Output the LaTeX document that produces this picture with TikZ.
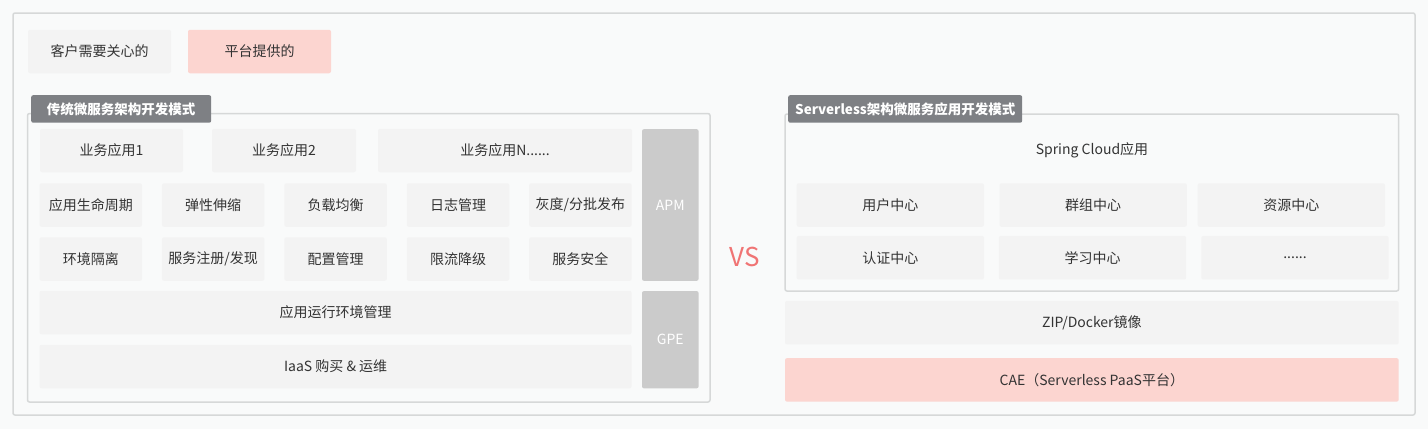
\documentclass[tikz,border=0pt]{standalone}
\usepackage{fontspec}
\setmainfont{Noto Sans CJK SC}
\definecolor{bgcol}{HTML}{F9FAFA}
\definecolor{framecol}{HTML}{D6D8D8}
\definecolor{boxgrey}{HTML}{F3F3F3}
\definecolor{boxpink}{HTML}{FCD5D0}
\definecolor{taggrey}{HTML}{7E8084}
\definecolor{sidegrey}{HTML}{CBCBCB}
\definecolor{txtcol}{HTML}{333333}
\definecolor{vscol}{HTML}{F07474}
\begin{document}
\begin{tikzpicture}[x=1pt,y=-1pt,
    cell/.style={fill=boxgrey,rounded corners=2pt,inner sep=0pt,minimum height=43.5pt,
      text=txtcol,font=\fontsize{14}{16}\selectfont},
    pinkcell/.style={cell,fill=boxpink},
    sidecell/.style={cell,fill=sidegrey,text=white},
    tagbox/.style={fill=taggrey,rounded corners=2pt,inner sep=0pt,anchor=north west,
      minimum height=27.5pt,text=white,font=\bfseries\fontsize{13.5}{16}\selectfont},
    frame/.style={draw=framecol,line width=1.5pt,rounded corners=2pt}]
    \useasboundingbox (0,0) rectangle (1428,429);
    \fill[bgcol] (0,0) rectangle (1428,429);

    % 外框
    \draw[frame,fill=bgcol] (13,13) rectangle (1415,415);

    % 图例
    \node[cell,minimum width=143pt] (legCust) at (99.5,51.5) {客户需要关心的};
    \node[pinkcell,minimum width=143pt] (legPlat) at (259.5,51.5) {平台提供的};

    % 左侧: 传统微服务架构
    \draw[frame] (27.5,113.5) rectangle (710,402);
    \node[tagbox,minimum width=180pt] (tagLeft) at (31,95) {传统微服务架构开发模式};

    % 第1行: 业务应用
    \node[cell,minimum width=143pt] (app1) at (111.5,150.5) {业务应用1};
    \node[cell,minimum width=144pt] (app2) at (284,150.5) {业务应用2};
    \node[cell,minimum width=254pt] (appN) at (505,150.5) {业务应用N......};

    % 第2行, 第3行: 治理能力
    \foreach \txt [count=\i from 0] in {应用生命周期,弹性伸缩,负载均衡,日志管理,灰度/分批发布}
        \node[cell,minimum width=102.5pt] (gov-a\i) at (90.8+122.4*\i,205) {\txt};
    \foreach \txt [count=\i from 0] in {环境隔离,服务注册/发现,配置管理,限流降级,服务安全}
        \node[cell,minimum width=102.5pt] (gov-b\i) at (90.8+122.4*\i,259) {\txt};

    % 第4行, 第5行
    \node[cell,minimum width=592pt] (runEnv) at (335.6,312.5) {应用运行环境管理};
    \node[cell,minimum width=592pt] (iaas) at (335.6,366.5) {IaaS 购买 \& 运维};

    % 右侧竖条
    \node[sidecell,minimum width=56.6pt,minimum height=151.7pt] (apm) at (670.3,205) {APM};
    \node[sidecell,minimum width=56.6pt,minimum height=97.3pt] (gpe) at (670.3,339.7) {GPE};

    % VS
    \node[text=vscol,font=\fontsize{26}{30}\selectfont] (vs) at (744.6,257) {VS};

    % 右侧: Serverless架构
    \draw[frame] (785,114) rectangle (1398.7,291);
    \node[tagbox,minimum width=234pt] (tagRight) at (788,95) {Serverless架构微服务应用开发模式};
    \node[text=txtcol,font=\fontsize{14}{16}\selectfont] (springApp) at (1092,150.7) {Spring Cloud应用};

    \node[cell,minimum width=187.4pt] (userCtr) at (890.3,205) {用户中心};
    \node[cell,minimum width=187.4pt] (groupCtr) at (1093.2,205) {群组中心};
    \node[cell,minimum width=187.4pt] (resCtr) at (1291.3,205) {资源中心};
    \node[cell,minimum width=187.4pt] (authCtr) at (890.3,257.7) {认证中心};
    \node[cell,minimum width=187.4pt] (studyCtr) at (1092.5,257.7) {学习中心};
    \node[cell,minimum width=187.4pt] (moreCtr) at (1295,257.7) {......};

    \node[cell,minimum width=613.7pt] (zipImg) at (1091.85,322.7) {ZIP/Docker镜像};
    \node[pinkcell,minimum width=613.7pt] (cae) at (1091.85,379.9) {CAE（Serverless PaaS平台）};
\end{tikzpicture}
\end{document}
